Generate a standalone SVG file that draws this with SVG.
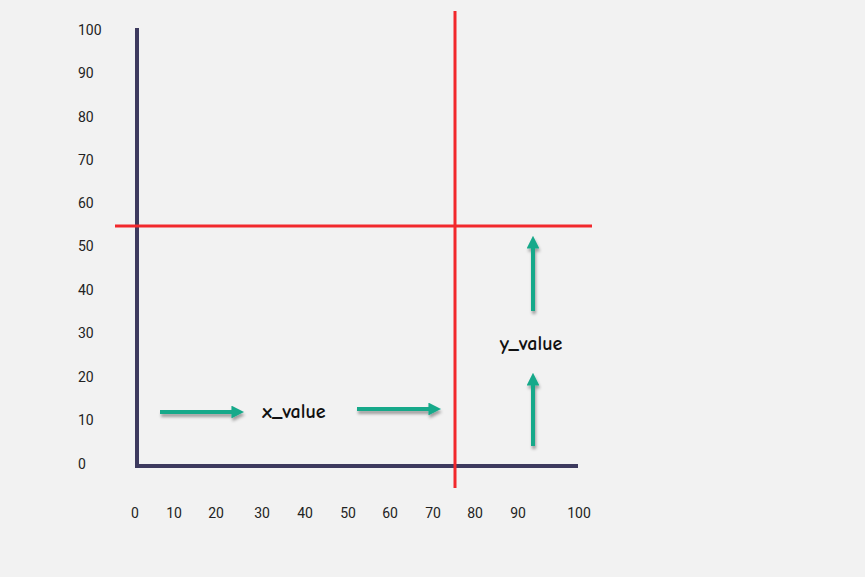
<svg xmlns="http://www.w3.org/2000/svg" width="865" height="577" viewBox="0 0 865 577">
<style>
.lbl{font-family:Roboto,"Liberation Sans",sans-serif;font-size:14px;fill:#222;}
.ax{stroke:#3d3a5e;stroke-width:4;fill:none;}
.red{stroke:#f2282c;stroke-width:3;fill:none;}
.arr{stroke:#17a98a;stroke-width:4;fill:none;filter:url(#sh);}
.hand{font-family:"Comic Neue","Comic Sans MS","DejaVu Sans",cursive;font-size:20px;font-weight:600;fill:#111;}
</style>
<defs>
<filter id="sh" filterUnits="userSpaceOnUse" x="0" y="0" width="865" height="577">
<feDropShadow dx="1" dy="3" stdDeviation="1.5" flood-color="#000" flood-opacity="0.35"/>
</filter>
<marker id="ah" viewBox="0 0 10 10" refX="2" refY="5" markerWidth="3.2" markerHeight="3.2" orient="auto" markerUnits="strokeWidth">
<path d="M0,0 L10,5 L0,10 z" fill="#17a98a"/>
</marker>
</defs>
<rect width="865" height="577" fill="#f2f2f2"/>
<g id="axes">
<path class="ax" d="M137,28 L137,466 L578,466"/>
</g>
<g id="y-labels" class="lbl" text-anchor="start">
<text x="78" y="35">100</text>
<text x="78" y="78">90</text>
<text x="78" y="122">80</text>
<text x="78" y="165">70</text>
<text x="78" y="208">60</text>
<text x="78" y="251">50</text>
<text x="78" y="295">40</text>
<text x="78" y="338">30</text>
<text x="78" y="382">20</text>
<text x="78" y="425">10</text>
<text x="78" y="469">0</text>
</g>
<g id="x-labels" class="lbl" text-anchor="middle">
<text x="135" y="518">0</text>
<text x="174" y="518">10</text>
<text x="216" y="518">20</text>
<text x="262" y="518">30</text>
<text x="305" y="518">40</text>
<text x="348" y="518">50</text>
<text x="390" y="518">60</text>
<text x="433" y="518">70</text>
<text x="475" y="518">80</text>
<text x="518" y="518">90</text>
<text x="579" y="518">100</text>
</g>
<g id="red-lines">
<line class="red" x1="455" y1="11" x2="455" y2="488"/>
<line class="red" x1="115" y1="226" x2="592" y2="226"/>
</g>
<g id="connectors">
<line class="arr" x1="160" y1="412" x2="234" y2="412" marker-end="url(#ah)"/>
<line class="arr" x1="357" y1="409" x2="431" y2="409" marker-end="url(#ah)"/>
<line class="arr" x1="533" y1="446" x2="533" y2="383" marker-end="url(#ah)"/>
<line class="arr" x1="533" y1="311" x2="533" y2="246" marker-end="url(#ah)"/>
</g>
<g id="x_value">
<text class="hand" x="294" y="418" text-anchor="middle">x_value</text>
</g>
<g id="y_value">
<text class="hand" x="531" y="350" text-anchor="middle">y_value</text>
</g>
</svg>
